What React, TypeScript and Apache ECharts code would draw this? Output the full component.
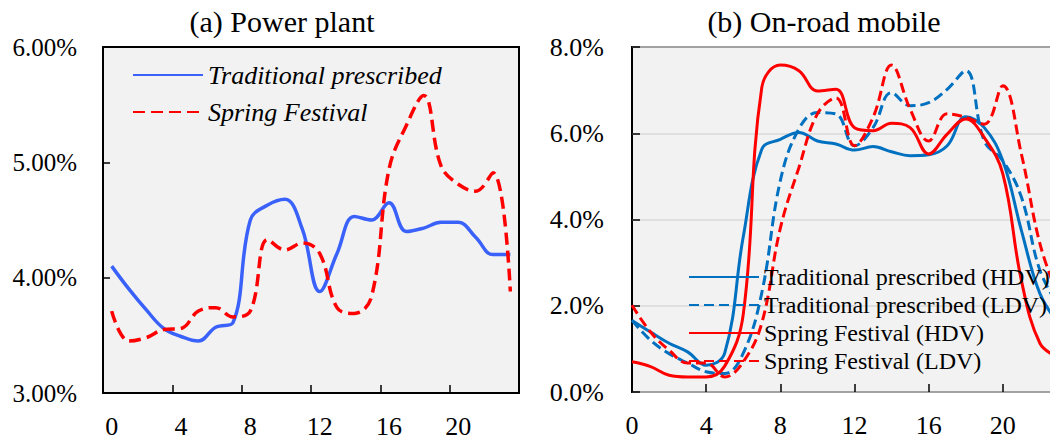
import React, { useEffect, useRef } from "react";
import * as echarts from "echarts";

const hourLabels = ["0","1","2","3","4","5","6","7","8","9","10","11","12","13","14","15","16","17","18","19","20","21","22","23"];
const hourValues = [0,1,2,3,4,5,6,7,8,9,10,11,12,13,14,15,16,17,18,19,20,21,22,23];

// (a) Power plant, % share per hour
const ppTraditional = [4.10,3.90,3.72,3.56,3.49,3.45,3.57,3.61,4.50,4.63,4.68,4.42,3.88,4.21,4.53,4.50,4.65,4.40,4.43,4.48,4.48,4.35,4.20,4.20];
const ppSpring = [3.71,3.45,3.48,3.55,3.56,3.71,3.74,3.66,3.71,4.33,4.24,4.30,4.21,3.74,3.69,3.84,4.94,5.32,5.58,4.97,4.81,4.75,4.91,3.88];

// (b) On-road mobile, % share per hour
const trHDV = [1.66,1.39,1.13,0.93,0.62,0.90,3.60,5.63,5.86,6.02,5.82,5.75,5.61,5.69,5.57,5.48,5.50,5.71,6.38,6.13,5.36,3.75,2.28,1.60];
const trLDV = [1.66,1.20,0.89,0.67,0.47,0.43,0.90,2.30,4.90,6.10,6.48,6.45,5.71,6.13,6.94,6.64,6.71,7.02,7.45,5.82,5.36,4.52,2.82,2.00];
const sfHDV = [0.70,0.59,0.39,0.35,0.35,0.60,1.80,7.06,7.58,7.45,6.98,7.02,6.13,6.06,6.23,6.13,5.52,5.98,6.33,5.90,5.06,2.59,1.13,0.80];
const sfLDV = [2.01,1.39,0.97,0.67,0.67,0.35,0.70,1.60,3.80,5.20,6.45,6.82,5.71,6.37,7.58,6.56,5.82,6.45,6.37,6.21,7.10,5.52,3.44,2.20];

const titles = ["(a) Power plant", "(b) On-road mobile"];
const ppNames = ["Traditional prescribed", "Spring Festival"];
const orNames = ["Traditional prescribed (HDV)", "Traditional prescribed (LDV)", "Spring Festival (HDV)", "Spring Festival (LDV)"];

const FONT = "Times New Roman, Liberation Serif, Tinos, DejaVu Serif, serif";

export default function App() {
  const ref = useRef<HTMLDivElement>(null);
  useEffect(() => {
    if (!ref.current) return;
    const chart = echarts.init(ref.current, undefined, { renderer: "svg" });
    const pairs = (vals: number[]) => hourValues.map((h, i) => [h, vals[i]]);
    const blueA = "#3a62fb";
    const blueB = "#0070c0";
    const red = "#ff0000";
    const axisLabelBase = { color: "#000", fontFamily: FONT, fontSize: 26 };
    const option: any = {
      animation: false,
      backgroundColor: "#fff",
      textStyle: { fontFamily: FONT },
      graphic: [
        { type: "text", x: 282, y: 6, style: { text: titles[0], fill: "#000", fontFamily: FONT, fontSize: 30, textAlign: "center", textVerticalAlign: "top" } },
        { type: "text", x: 824, y: 6, style: { text: titles[1], fill: "#000", fontFamily: FONT, fontSize: 30, textAlign: "center", textVerticalAlign: "top" } },
      ],
      grid: [
        { left: 103, top: 47, width: 416, height: 346, show: true, backgroundColor: "#f2f2f2", borderColor: "#000", borderWidth: 2 },
        { left: 632, top: 47, width: 445, height: 345, show: true, backgroundColor: "#f2f2f2", borderColor: "#000", borderWidth: 2 },
      ],
      legend: [
        {
          data: ppNames,
          orient: "vertical",
          left: 127,
          top: 57,
          itemWidth: 70,
          itemHeight: 14,
          itemGap: 11,
          itemStyle: { opacity: 0 },
          textStyle: { fontFamily: FONT, fontSize: 26, fontStyle: "italic", color: "#000" },
        },
        {
          data: orNames,
          orient: "vertical",
          left: 683,
          top: 260,
          itemWidth: 70,
          itemHeight: 12,
          itemGap: 4,
          itemStyle: { opacity: 0 },
          textStyle: { fontFamily: FONT, fontSize: 24, color: "#000" },
        },
      ],
      xAxis: [
        {
          gridIndex: 0,
          type: "category",
          data: hourLabels,
          boundaryGap: true,
          axisLine: { show: false },
          axisTick: { show: true, inside: true, length: 8, interval: 3, lineStyle: { color: "#000", width: 1.5 } },
          axisLabel: { ...axisLabelBase, interval: 3, margin: 20 },
          splitLine: { show: false },
        },
        {
          gridIndex: 1,
          type: "value",
          min: 0,
          max: 24,
          interval: 4,
          axisLine: { show: false },
          axisTick: { show: true, inside: true, length: 8, lineStyle: { color: "#000", width: 1.5 } },
          axisLabel: { ...axisLabelBase, margin: 20, showMaxLabel: false },
          splitLine: { show: false },
        },
      ],
      yAxis: [
        {
          gridIndex: 0,
          type: "value",
          min: 3,
          max: 6,
          interval: 1,
          axisLine: { show: false },
          axisTick: { show: true, inside: true, length: 7, lineStyle: { color: "#000", width: 1.5 } },
          axisLabel: { ...axisLabelBase, fontSize: 25, margin: 26, formatter: (v: number) => v.toFixed(2) + "%" },
          splitLine: { show: false },
        },
        {
          gridIndex: 1,
          type: "value",
          min: 0,
          max: 8,
          interval: 2,
          axisLine: { show: false },
          axisTick: { show: true, inside: true, length: 8, lineStyle: { color: "#000", width: 1.5 } },
          axisLabel: { ...axisLabelBase, fontSize: 26, margin: 28, formatter: (v: number) => v.toFixed(1) + "%" },
          splitLine: { show: true, lineStyle: { color: "#d9d9d9", width: 1.5 } },
        },
      ],
      series: [
        { name: ppNames[0], type: "line", xAxisIndex: 0, yAxisIndex: 0, data: ppTraditional, smooth: 0.4, symbol: "none", lineStyle: { color: blueA, width: 3.5 }, itemStyle: { color: blueA } },
        { name: ppNames[1], type: "line", xAxisIndex: 0, yAxisIndex: 0, data: ppSpring, smooth: 0.4, symbol: "none", lineStyle: { color: red, width: 3.5, type: [12, 6] }, itemStyle: { color: red } },
        { name: orNames[0], type: "line", xAxisIndex: 1, yAxisIndex: 1, data: pairs(trHDV), smooth: 0.4, symbol: "none", lineStyle: { color: blueB, width: 3 }, itemStyle: { color: blueB } },
        { name: orNames[1], type: "line", xAxisIndex: 1, yAxisIndex: 1, data: pairs(trLDV), smooth: 0.4, symbol: "none", lineStyle: { color: blueB, width: 3, type: [10, 5] }, itemStyle: { color: blueB } },
        { name: orNames[2], type: "line", xAxisIndex: 1, yAxisIndex: 1, data: pairs(sfHDV), smooth: 0.4, symbol: "none", lineStyle: { color: red, width: 3 }, itemStyle: { color: red } },
        { name: orNames[3], type: "line", xAxisIndex: 1, yAxisIndex: 1, data: pairs(sfLDV), smooth: 0.4, symbol: "none", lineStyle: { color: red, width: 3, type: [10, 5] }, itemStyle: { color: red } },
      ],
    };
    chart.setOption(option);
    return () => chart.dispose();
  }, []);
  return (
    <div style={{ position: "absolute", left: 0, top: 0, width: 1050, height: 443, overflow: "hidden" }}>
      <div ref={ref} style={{ width: 1100, height: 443 }} />
    </div>
  );
}
